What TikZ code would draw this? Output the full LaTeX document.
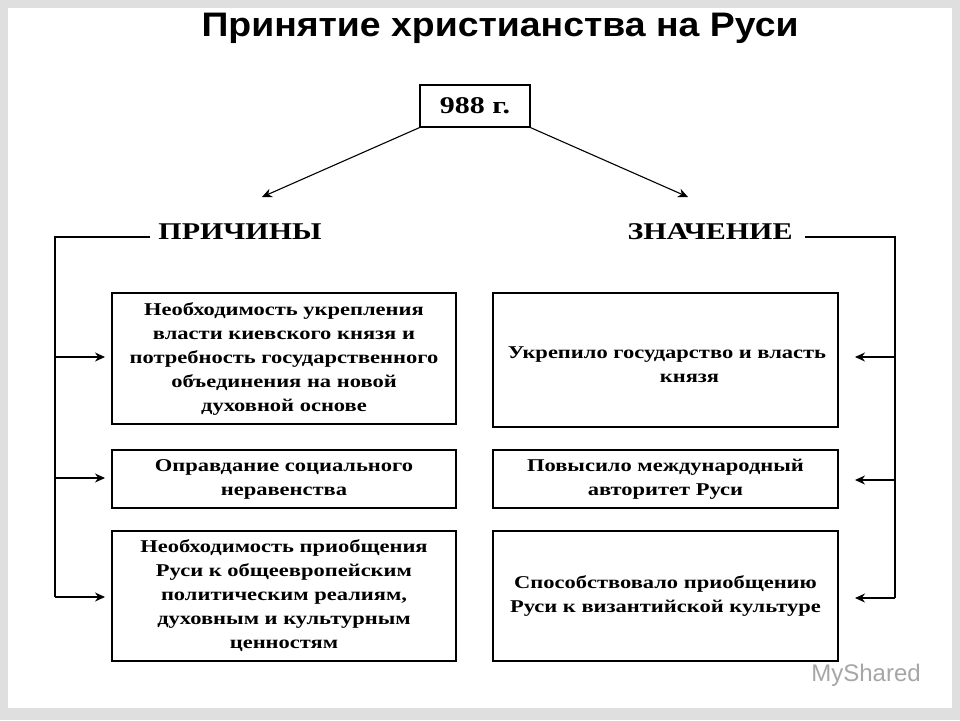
\documentclass[tikz,border=0pt]{standalone}
\usepackage{fontspec}
\usetikzlibrary{arrows.meta}
\setmainfont{Liberation Serif}[FakeStretch=1.25]
\newfontfamily\titlefont{Liberation Sans}[FakeStretch=1.1]
\newfontfamily\wmfont{Liberation Sans}
\begin{document}
\begin{tikzpicture}[x=1pt,y=-1pt,
 box/.style={draw,line width=1.3pt,align=center,inner sep=0pt,font=\fontsize{18}{24}\selectfont\bfseries},
 head/.style={font=\fontsize{24}{26}\selectfont\bfseries},
 conn/.style={line width=1.1pt},
 arr/.style={line width=1.1pt,-{Stealth[length=10pt,width=9pt]}}]
\fill[gray!25] (0,0) rectangle (960,720);
\fill[white] (8,8) rectangle (952,708);
\useasboundingbox (0,0) rectangle (960,720);
\node[font=\titlefont\fontsize{34}{38}\selectfont\bfseries] (title) at (500,28) {Принятие христианства на Руси};
\node[box,minimum width=110pt,minimum height=42pt,head] (year) at (475,106) {988 г.};
\node[head] (pr) at (240,232) {ПРИЧИНЫ};
\node[head] (zn) at (710,232) {ЗНАЧЕНИЕ};
\coordinate (pa) at (262,197); \coordinate (za) at (688,197);
\draw[arr] (year.south west) -- (pa);
\draw[arr] (year.south east) -- (za);
\node[box,minimum width=344pt,minimum height=131pt] (l1) at (284,358.5) {Необходимость укрепления\\власти киевского князя и\\потребность государственного\\объединения на новой\\духовной основе};
\node[box,minimum width=344pt,minimum height=58pt] (l2) at (284,479) {Оправдание социального\\неравенства};
\node[box,minimum width=344pt,minimum height=130pt] (l3) at (284,596) {Необходимость приобщения\\Руси к общеевропейским\\политическим реалиям,\\духовным и культурным\\ценностям};
\node[box,minimum width=345pt,minimum height=134pt] (r1) at (665.5,360) {};
\node[font=\fontsize{18}{24}\selectfont\bfseries,align=center] (r1t) at (667,365) {Укрепило государство и власть\\\hspace*{45pt}князя};
\node[box,minimum width=345pt,minimum height=58pt] (r2) at (665.5,479) {Повысило международный\\авторитет Руси};
\node[box,minimum width=345pt,minimum height=130pt] (r3) at (665.5,596) {Способствовало приобщению\\Руси к византийской культуре};
\coordinate (lt) at (150,237); \coordinate (lc) at (55,237); \coordinate (lb) at (55,597);
\coordinate (rt) at (805,237); \coordinate (rc) at (895,237); \coordinate (rb) at (895,598);
\draw[conn] (lt) -- (lc) -- (lb);
\draw[conn] (rt) -- (rc) -- (rb);
\draw[arr] (55,357) -- (105,357);
\draw[arr] (55,478) -- (105,478);
\draw[arr] (lb) -- (105,597);
\draw[arr] (895,357) -- (855,357);
\draw[arr] (895,480) -- (855,480);
\draw[arr] (rb) -- (855,598);
\node[text=gray!70,font=\wmfont\fontsize{24}{26}\selectfont] (wm) at (866,675) {MyShared};
\end{tikzpicture}
\end{document}
